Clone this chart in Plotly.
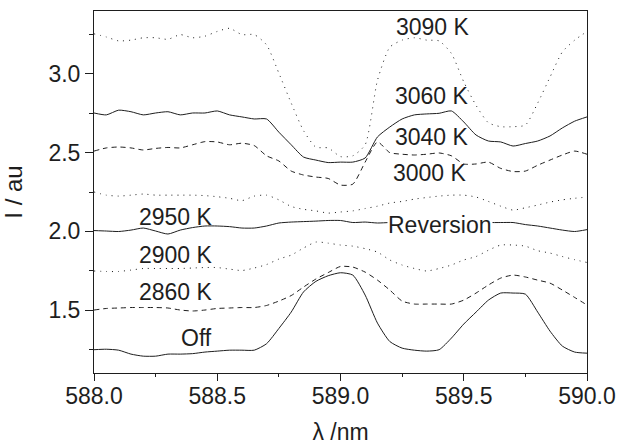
import plotly.graph_objects as go

wavelength = [588.00, 588.05, 588.10, 588.15, 588.20, 588.25, 588.30, 588.35, 588.40, 588.45,
              588.50, 588.55, 588.60, 588.65, 588.70, 588.75, 588.80, 588.85, 588.90, 588.95,
              589.00, 589.05, 589.10, 589.15, 589.20, 589.25, 589.30, 589.35, 589.40, 589.45,
              589.50, 589.55, 589.60, 589.65, 589.70, 589.75, 589.80, 589.85, 589.90, 589.95,
              590.00]

i_3090 = [3.255, 3.235, 3.21, 3.215, 3.23, 3.23, 3.22, 3.25, 3.23, 3.24,
          3.27, 3.29, 3.25, 3.25, 3.185, 3.005, 2.815, 2.64, 2.535, 2.53,
          2.475, 2.48, 2.55, 2.96, 3.17, 3.215, 3.23, 3.215, 3.21, 3.13,
          2.95, 2.80, 2.69, 2.665, 2.665, 2.675, 2.815, 2.98, 3.14, 3.215,
          3.27]

i_3060 = [2.752, 2.74, 2.77, 2.76, 2.74, 2.752, 2.76, 2.74, 2.752, 2.752,
          2.765, 2.74, 2.727, 2.714, 2.714, 2.63, 2.55, 2.472, 2.453, 2.437,
          2.44, 2.44, 2.466, 2.60, 2.663, 2.714, 2.74, 2.746, 2.75, 2.765,
          2.695, 2.612, 2.574, 2.568, 2.542, 2.558, 2.574, 2.606, 2.657, 2.70,
          2.727]

i_3040 = [2.51, 2.53, 2.536, 2.53, 2.517, 2.527, 2.533, 2.53, 2.55, 2.57,
          2.568, 2.55, 2.56, 2.545, 2.48, 2.447, 2.383, 2.358, 2.345, 2.336,
          2.294, 2.30, 2.44, 2.568, 2.50, 2.49, 2.485, 2.49, 2.498, 2.48,
          2.428, 2.428, 2.44, 2.40, 2.38, 2.383, 2.42, 2.453, 2.485, 2.51,
          2.49]

i_3000 = [2.25, 2.23, 2.224, 2.23, 2.237, 2.23, 2.23, 2.23, 2.23, 2.227,
          2.22, 2.21, 2.195, 2.224, 2.23, 2.20, 2.158, 2.14, 2.13, 2.116,
          2.123, 2.13, 2.145, 2.16, 2.18, 2.19, 2.205, 2.215, 2.224, 2.23,
          2.23, 2.218, 2.19, 2.16, 2.135, 2.15, 2.167, 2.186, 2.20, 2.21,
          2.218]

i_2950 = [2.005, 2.002, 1.999, 2.008, 2.021, 2.002, 1.983, 2.008, 2.024, 2.034,
          2.034, 2.03, 2.021, 2.021, 2.034, 2.053, 2.059, 2.062, 2.065, 2.069,
          2.069, 2.056, 2.059, 2.053, 2.056, 2.056, 2.056, 2.056, 2.056, 2.056,
          2.056, 2.059, 2.056, 2.056, 2.056, 2.043, 2.034, 2.021, 2.008, 1.999,
          2.011]

i_2900 = [1.748, 1.745, 1.745, 1.754, 1.764, 1.764, 1.764, 1.764, 1.767, 1.77,
          1.77, 1.76, 1.751, 1.767, 1.789, 1.824, 1.849, 1.894, 1.932, 1.925,
          1.913, 1.906, 1.89, 1.868, 1.818, 1.786, 1.764, 1.748, 1.764, 1.786,
          1.818, 1.84, 1.88, 1.913, 1.913, 1.906, 1.877, 1.862, 1.84, 1.82,
          1.802]

i_2860 = [1.50, 1.51, 1.513, 1.516, 1.516, 1.516, 1.513, 1.50, 1.494, 1.50,
          1.51, 1.513, 1.516, 1.516, 1.529, 1.557, 1.592, 1.646, 1.697, 1.738,
          1.777, 1.773, 1.741, 1.69, 1.627, 1.557, 1.538, 1.538, 1.538, 1.538,
          1.563, 1.608, 1.659, 1.703, 1.722, 1.71, 1.69, 1.671, 1.627, 1.58,
          1.532]

i_off = [1.248, 1.251, 1.245, 1.22, 1.207, 1.207, 1.22, 1.22, 1.223, 1.233,
         1.239, 1.245, 1.245, 1.245, 1.286, 1.383, 1.487, 1.615, 1.682, 1.718,
         1.737, 1.722, 1.595, 1.417, 1.30, 1.258, 1.245, 1.239, 1.248, 1.322,
         1.411, 1.487, 1.563, 1.608, 1.608, 1.601, 1.487, 1.366, 1.271, 1.233,
         1.226]

series = [
    ("3090 K", i_3090, "1px,5px"),
    ("3060 K", i_3060, "solid"),
    ("3040 K", i_3040, "5px,4px"),
    ("3000 K", i_3000, "1px,5px"),
    ("2950 K", i_2950, "solid"),
    ("2900 K", i_2900, "1px,5px"),
    ("2860 K", i_2860, "5px,4px"),
    ("Off", i_off, "solid"),
]

labels = ["3090 K", "3060 K", "3040 K", "3000 K", "2950 K", "2900 K", "2860 K", "Off", "Reversion"]
label_x = [589.375, 589.371, 589.371, 589.363, 588.333, 588.333, 588.333, 588.414, 589.404]
label_y = [3.299, 2.860, 2.600, 2.371, 2.091, 1.849, 1.614, 1.322, 2.040]

ink = "#1e1e1e"
font_family = "Liberation Sans, Arial, sans-serif"
fig = go.Figure()
for name, vals, dash in series:
    fig.add_trace(go.Scatter(x=wavelength, y=vals, mode="lines", name=name,
                             line=dict(color=ink, width=1, dash=dash, shape="spline", smoothing=0.6),
                             showlegend=False, hoverinfo="skip"))

for t, xx, yy in zip(labels, label_x, label_y):
    fig.add_annotation(x=xx, y=yy, text=t, showarrow=False,
                       font=dict(size=23, color=ink, family=font_family),
                       bgcolor="white" if t == "Reversion" else "rgba(0,0,0,0)",
                       borderpad=0)

axis_common = dict(showline=True, linecolor=ink, linewidth=1, mirror=True,
                   ticks="outside", tickwidth=1, tickcolor=ink,
                   showgrid=False, zeroline=False, automargin=False,
                   tickfont=dict(size=23, color=ink, family=font_family))

fig.update_layout(
    width=619, height=446,
    margin=dict(l=94, r=32, t=11, b=73),
    paper_bgcolor="white", plot_bgcolor="white",
    xaxis=dict(range=[588.0, 590.0], dtick=0.5, tick0=588.0, tickformat=".1f", ticklen=7,
               ticklabelstandoff=-5,
               minor=dict(dtick=0.25, ticks="outside", ticklen=3, tickcolor=ink),
               title=dict(text="λ /nm", standoff=16,
                          font=dict(size=23, color=ink, family=font_family)),
               **axis_common),
    yaxis=dict(range=[1.1, 3.4], dtick=0.5, tick0=1.5, tickformat=".1f", ticklen=8,
               minor=dict(dtick=0.25, ticks="outside", ticklen=4, tickcolor=ink),
               title=dict(text="I / au", standoff=20,
                          font=dict(size=24, color=ink, family=font_family)),
               **axis_common),
)

fig.write_html("out.html")
